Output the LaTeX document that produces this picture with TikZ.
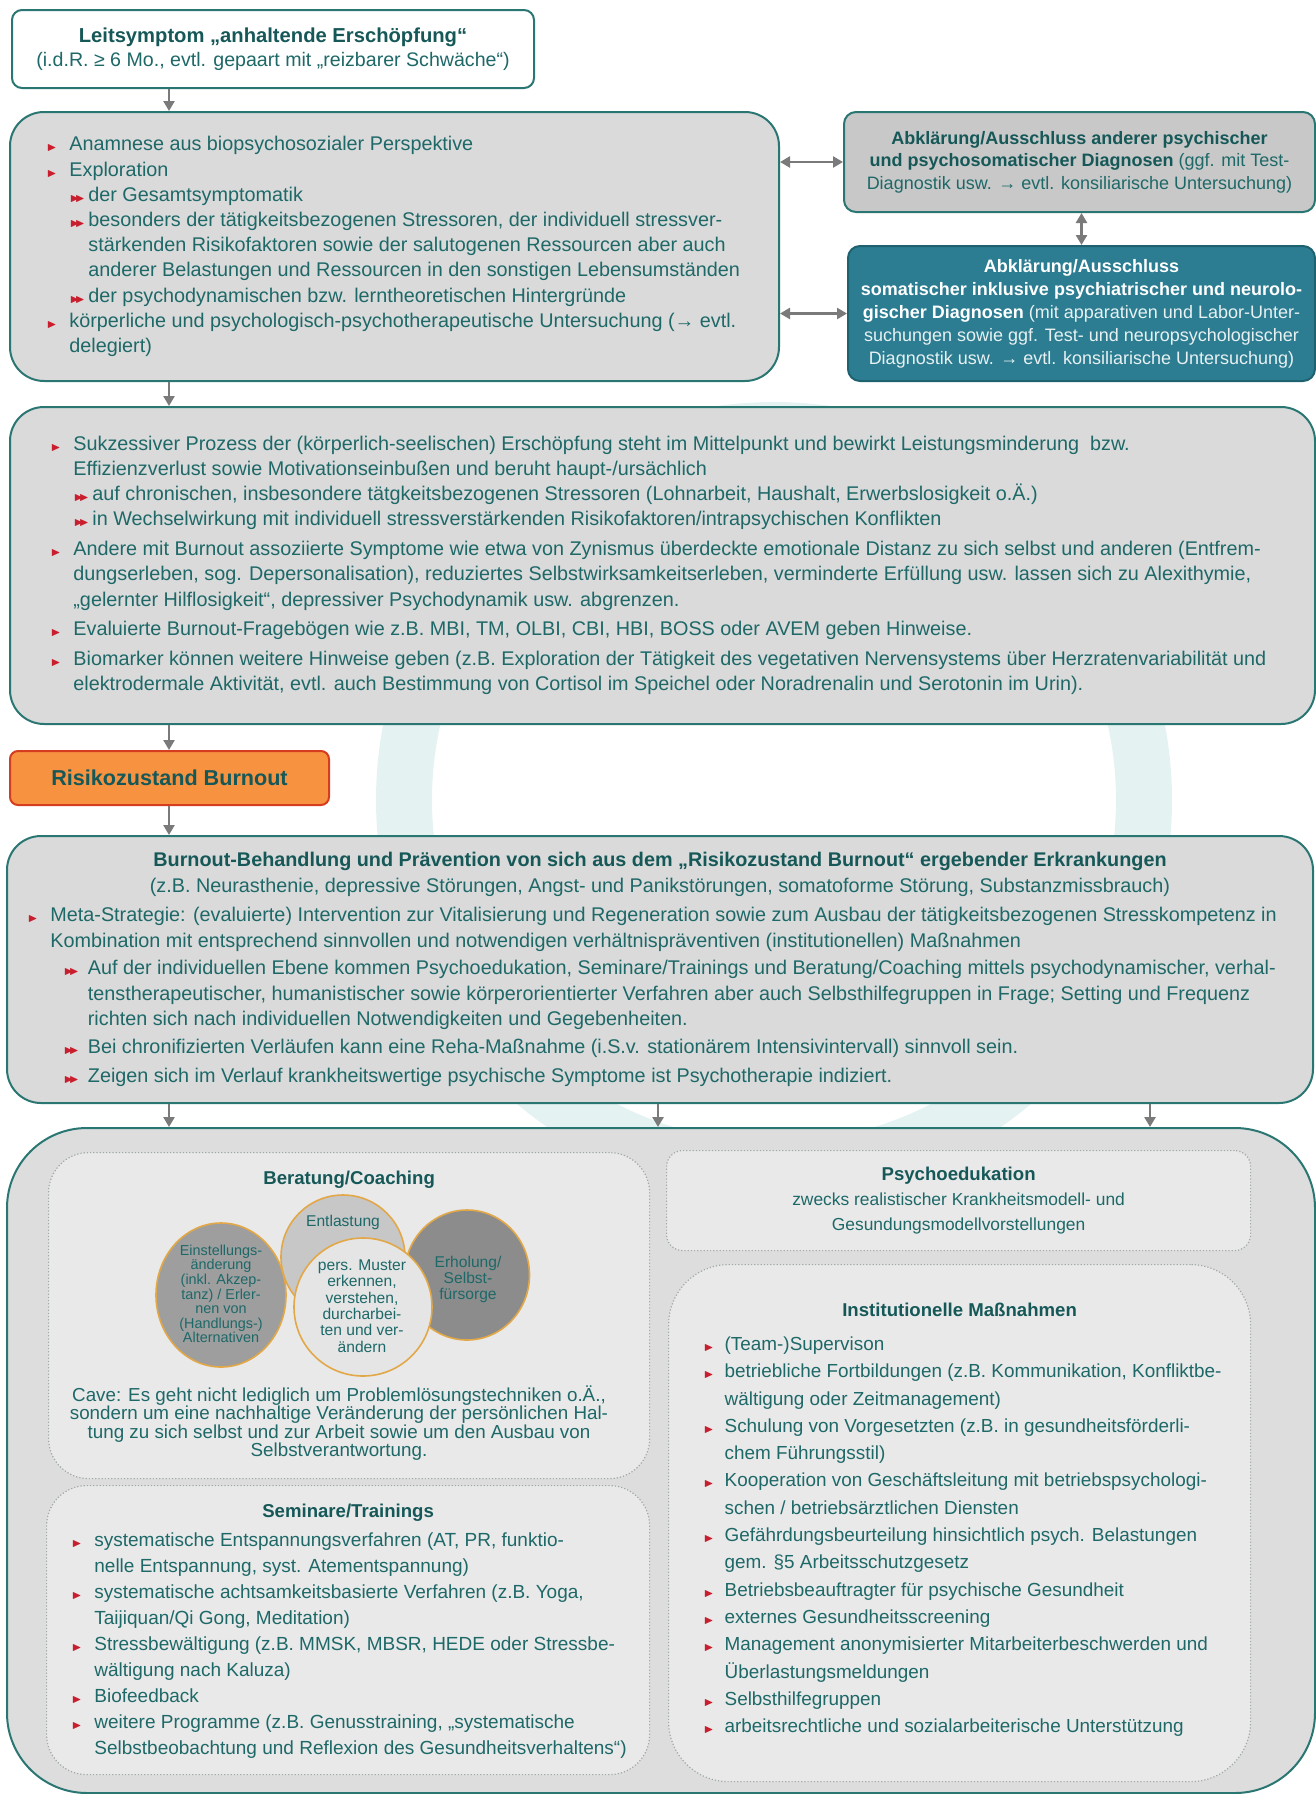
\documentclass[tikz,border=0pt]{standalone}
\usepackage{amssymb}
\usepackage{fontspec}
\setmainfont{Liberation Sans}
\usetikzlibrary{
  arrows.meta,
  positioning,
  shapes.geometric
}
\definecolor{tealline}{RGB}{42,118,114}
\definecolor{tealtext}{RGB}{30,104,104}
\definecolor{headtext}{RGB}{22,88,88}
\definecolor{boxgray}{RGB}{218,218,218}
\definecolor{darkbox}{RGB}{200,200,200}
\definecolor{bluebox}{RGB}{44,125,146}
\definecolor{blueline}{RGB}{30,98,112}
\definecolor{bluetext}{RGB}{232,241,242}
\definecolor{riskfill}{RGB}{247,146,64}
\definecolor{riskline}{RGB}{214,60,30}
\definecolor{bulletred}{RGB}{200,30,45}
\definecolor{arrowgray}{RGB}{122,122,122}
\definecolor{innerfill}{RGB}{233,233,233}
\definecolor{innerline}{RGB}{160,168,168}
\definecolor{outerfill}{RGB}{221,221,221}
\definecolor{venngold}{RGB}{226,168,72}
\definecolor{ringteal}{RGB}{229,242,242}
\newlength{\bulind}
\setlength{\bulind}{11.5pt}
\newcommand{\bul}[1][\bulind]{\makebox[#1][l]{\textcolor{bulletred}{\tiny$\blacktriangleright$}}}
\newcommand{\cont}[1][\bulind]{\hspace*{#1}}
\newcommand{\sbul}{\textcolor{bulletred}{\tiny$\blacktriangleright\mkern-7mu\blacktriangleright$}}
\newcommand{\sub}[1][\bulind]{\hspace*{#1}\makebox[9.5pt][l]{\sbul}}
\newcommand{\scont}[1][\bulind]{\hspace*{#1}\hspace*{9.5pt}}
\tikzset{
bodytext/.style={
  inner sep=0pt,
  align=left,
  text=tealtext
},
flowbox/.style={
  draw=tealline,
  line width=1pt,
  fill=boxgray,
  rounded corners=17pt,
  anchor=north west,
  inner sep=0pt
},
smallbox/.style={
  flowbox,
  rounded corners=6pt,
  align=center,
  text=tealtext
},
innerbox/.style={
  draw=innerline,
  densely dotted,
  line width=0.6pt,
  fill=innerfill,
  anchor=north west,
  inner sep=0pt
},
venn/.style={
  draw=venngold,
  line width=0.8pt,
  ellipse,
  inner sep=0pt,
  align=center,
  text=tealtext,
  font=\fontsize{7.8}{8}\selectfont
},
arrow/.style={
  -{Triangle[length=5pt,width=5.5pt]},
  line width=1.3pt,
  draw=arrowgray
},
biarrow/.style={
  arrow,
  {Triangle[length=5pt,width=5.5pt]}-{Triangle[length=5pt,width=5.5pt]}
}
}

\begin{document}
\begin{tikzpicture}[x=1pt,y=-1pt]
\useasboundingbox (0,0) rectangle (658,897);
\draw[ringteal, line width=28pt] (387,400) circle (185);

\coordinate (spine) at (84.5,0);
\coordinate (midfork) at (329,0);
\coordinate (rightfork) at (575,0);

% diagnostic part
\node[smallbox, fill=white, minimum width=261pt, minimum height=39pt, rounded corners=5pt,
  font=\fontsize{9.8}{12}\selectfont] (lead) at (5.5,4.5)
  {\textbf{\color{headtext}\fontsize{10.1}{12}\selectfont Leitsymptom „anhaltende Erschöpfung“}\\
   (i.d.R. ≥ 6 Mo., evtl. gepaart mit „reizbarer Schwäche“)};

\node[flowbox, minimum width=384.5pt, minimum height=134.5pt] (anam) at (4.5,55.5) {};
\node[bodytext, anchor=west, font=\fontsize{9.9}{12.6}\selectfont] (anamtext)
  at ([xshift=18.5pt]anam.west)
  {\bul Anamnese aus biopsychosozialer Perspektive\\
   \bul Exploration\\
   \sub der Gesamtsymptomatik\\
   \sub besonders der tätigkeitsbezogenen Stressoren, der individuell stressver-\\
   \scont stärkenden Risikofaktoren sowie der salutogenen Ressourcen aber auch\\
   \scont anderer Belastungen und Ressourcen in den sonstigen Lebensumständen\\
   \sub der psychodynamischen bzw. lerntheoretischen Hintergründe\\
   \bul körperliche und psychologisch-psychotherapeutische Untersuchung (→ evtl.\\
   \cont delegiert)};

\node[smallbox, fill=darkbox, minimum width=235.5pt, minimum height=50pt,
  font=\fontsize{9}{11.3}\selectfont] (psydiag) at (421.5,55.5)
  {\textbf{\color{headtext}Abklärung/Ausschluss anderer psychischer}\\
   \textbf{\color{headtext}und psychosomatischer Diagnosen} (ggf. mit Test-\\
   Diagnostik usw. → evtl. konsiliarische Untersuchung)};

\node[smallbox, draw=blueline, fill=bluebox, text=bluetext, minimum width=233.5pt, minimum height=67.5pt,
  font=\fontsize{9}{11.5}\selectfont] (somdiag) at (423.5,122.5)
  {\textbf{\color{white}Abklärung/Ausschluss}\\
   \textbf{\color{white}somatischer inklusive psychiatrischer und neurolo-}\\
   \textbf{\color{white}gischer Diagnosen} (mit apparativen und Labor-Unter-\\
   suchungen sowie ggf. Test- und neuropsychologischer\\
   Diagnostik usw. → evtl. konsiliarische Untersuchung)};

\node[flowbox, minimum width=652.5pt, minimum height=158.5pt] (process) at (4.5,203) {};
\node[bodytext, anchor=west, font=\fontsize{9.9}{12.6}\selectfont] (processtext)
  at ([xshift=20.5pt]process.west)
  {\bul Sukzessiver Prozess der (körperlich-seelischen) Erschöpfung steht im Mittelpunkt und bewirkt Leistungsminderung\ \ bzw.\\
   \cont Effizienzverlust sowie Motivationseinbußen und beruht haupt-/ursächlich\\
   \sub auf chronischen, insbesondere tätgkeitsbezogenen Stressoren (Lohnarbeit, Haushalt, Erwerbslosigkeit o.Ä.)\\
   \sub in Wechselwirkung mit individuell stressverstärkenden Risikofaktoren/intrapsychischen Konflikten\\[2.3pt]
   \bul Andere mit Burnout assoziierte Symptome wie etwa von Zynismus überdeckte emotionale Distanz zu sich selbst und anderen (Entfrem-\\
   \cont dungserleben, sog. Depersonalisation), reduziertes Selbstwirksamkeitserleben, verminderte Erfüllung usw. lassen sich zu Alexithymie,\\
   \cont „gelernter Hilflosigkeit“, depressiver Psychodynamik usw. abgrenzen.\\[2.3pt]
   \bul Evaluierte Burnout-Fragebögen wie z.B. MBI, TM, OLBI, CBI, HBI, BOSS oder AVEM geben Hinweise.\\[2.3pt]
   \bul Biomarker können weitere Hinweise geben (z.B. Exploration der Tätigkeit des vegetativen Nervensystems über Herzratenvariabilität und\\
   \cont elektrodermale Aktivität, evtl. auch Bestimmung von Cortisol im Speichel oder Noradrenalin und Serotonin im Urin).};

\node[smallbox, draw=riskline, fill=riskfill, minimum width=159.5pt, minimum height=27pt, rounded corners=4pt,
  font=\bfseries\fontsize{10.8}{12}\selectfont, text=headtext] (risk) at (4.5,375) {Risikozustand Burnout};

% treatment part
\node[flowbox, minimum width=653pt, minimum height=133.5pt] (treat) at (3,417.5) {};
\node[bodytext, align=center, anchor=center, font=\fontsize{9.9}{13}\selectfont] (treathead)
  at ([yshift=-19.5pt]treat.north)
  {\textbf{\color{headtext}Burnout-Behandlung und Prävention von sich aus dem „Risikozustand Burnout“ ergebender Erkrankungen}\\
   (z.B. Neurasthenie, depressive Störungen, Angst- und Panikstörungen, somatoforme Störung, Substanzmissbrauch)};
\node[bodytext, anchor=west, font=\fontsize{9.9}{12.7}\selectfont] (treattext)
  at ([xshift=10.5pt,yshift=-13.75pt]treat.west)
  {\bul Meta-Strategie: (evaluierte) Intervention zur Vitalisierung und Regeneration sowie zum Ausbau der tätigkeitsbezogenen Stresskompetenz in\\
   \cont Kombination mit entsprechend sinnvollen und notwendigen verhältnispräventiven (institutionellen) Maßnahmen\\[1pt]
   \sub[18pt] Auf der individuellen Ebene kommen Psychoedukation, Seminare/Trainings und Beratung/Coaching mittels psychodynamischer, verhal-\\
   \scont[18pt] tenstherapeutischer, humanistischer sowie körperorientierter Verfahren aber auch Selbsthilfegruppen in Frage; Setting und Frequenz\\
   \scont[18pt] richten sich nach individuellen Notwendigkeiten und Gegebenheiten.\\[1.5pt]
   \sub[18pt] Bei chronifizierten Verläufen kann eine Reha-Maßnahme (i.S.v. stationärem Intensivintervall) sinnvoll sein.\\[1.5pt]
   \sub[18pt] Zeigen sich im Verlauf krankheitswertige psychische Symptome ist Psychotherapie indiziert.};

\node[flowbox, fill=outerfill, rounded corners=40pt, minimum width=654pt, minimum height=332.5pt] (measures) at (3,563.5) {};

% Beratung/Coaching
\node[innerbox, rounded corners=20pt, minimum width=300.5pt, minimum height=163pt] (coach) at (24,576) {};
\node[bodytext, font=\bfseries\fontsize{9.3}{11}\selectfont, text=headtext] (coachhead) at ([yshift=-14pt]coach.north) {Beratung/Coaching};
\node[venn, fill=black!22, minimum width=62pt, minimum height=62pt] (relief) at (171.5,628.5) {};
\node[venn, fill=black!38, minimum width=65pt, minimum height=72pt] (attitude) at (110.5,647.5) {};
\node[venn, fill=black!45, minimum width=62.5pt, minimum height=65pt] (recovery) at (233.5,637.5) {};
\node[venn, fill=black!10, minimum width=69pt, minimum height=69pt] (pattern) at (181.5,653.5) {};
\node[venn, draw=none, fill=none] (relieftext) at (171.5,611) {Entlastung};
\node[venn, draw=none, fill=none, font=\fontsize{7.2}{7.3}\selectfont] (attitudetext) at (110.5,647)
  {Einstellungs-\\änderung\\(inkl. Akzep-\\tanz) / Erler-\\nen von\\(Handlungs-)\\Alternativen};
\node[venn, draw=none, fill=none] (recoverytext) at (234,639.5) {Erholung/\\Selbst-\\fürsorge};
\node[venn, draw=none, fill=none, font=\fontsize{7.8}{8.2}\selectfont] (patterntext) at (181,653)
  {pers. Muster\\erkennen,\\verstehen,\\durcharbei-\\ten und ver-\\ändern};
\node[bodytext, align=center, font=\fontsize{9.4}{9.3}\selectfont] (cave) at (169.5,711.5)
  {Cave: Es geht nicht lediglich um Problemlösungstechniken o.Ä.,\\
   sondern um eine nachhaltige Veränderung der persönlichen Hal-\\
   tung zu sich selbst und zur Arbeit sowie um den Ausbau von\\
   Selbstverantwortung.};

% Seminare/Trainings
\node[innerbox, rounded corners=20pt, minimum width=301.5pt, minimum height=144.5pt] (seminar) at (23,742.5) {};
\node[bodytext, font=\bfseries\fontsize{9.3}{11}\selectfont, text=headtext] (seminarhead) at ([yshift=-14pt]seminar.north) {Seminare/Trainings};
\node[bodytext, anchor=west, font=\fontsize{9.5}{13}\selectfont] (seminartext) at ([xshift=12.5pt,yshift=-7.5pt]seminar.west)
  {\bul systematische Entspannungsverfahren (AT, PR, funktio-\\
   \cont nelle Entspannung, syst. Atementspannung)\\
   \bul systematische achtsamkeitsbasierte Verfahren (z.B. Yoga,\\
   \cont Taijiquan/Qi Gong, Meditation)\\
   \bul Stressbewältigung (z.B. MMSK, MBSR, HEDE oder Stressbe-\\
   \cont wältigung nach Kaluza)\\
   \bul Biofeedback\\
   \bul weitere Programme (z.B. Genusstraining, „systematische\\
   \cont Selbstbeobachtung und Reflexion des Gesundheitsverhaltens“)};

% Psychoedukation
\node[innerbox, rounded corners=8pt, minimum width=292pt, minimum height=50pt, align=center, text=tealtext,
  font=\fontsize{8.7}{12.5}\selectfont] (psyedu) at (333,575)
  {\textbf{\color{headtext}\fontsize{9.3}{12.5}\selectfont Psychoedukation}\\
   zwecks realistischer Krankheitsmodell- und\\
   Gesundungsmodellvorstellungen};

% Institutionelle Massnahmen
\node[innerbox, rounded corners=30pt, minimum width=291pt, minimum height=258.5pt] (inst) at (334,632) {};
\node[bodytext, font=\bfseries\fontsize{9.3}{11}\selectfont, text=headtext] (insthead) at ([yshift=-23pt]inst.north) {Institutionelle Maßnahmen};
\node[bodytext, anchor=west, font=\fontsize{9.45}{13.65}\selectfont] (insttext) at ([xshift=17.5pt,yshift=-6.75pt]inst.west)
  {\bul[8pt] (Team-)Supervison\\
   \bul[8pt] betriebliche Fortbildungen (z.B. Kommunikation, Konfliktbe-\\
   \cont[8pt] wältigung oder Zeitmanagement)\\
   \bul[8pt] Schulung von Vorgesetzten (z.B. in gesundheitsförderli-\\
   \cont[8pt] chem Führungsstil)\\
   \bul[8pt] Kooperation von Geschäftsleitung mit betriebspsychologi-\\
   \cont[8pt] schen / betriebsärztlichen Diensten\\
   \bul[8pt] Gefährdungsbeurteilung hinsichtlich psych. Belastungen\\
   \cont[8pt] gem. §5 Arbeitsschutzgesetz\\
   \bul[8pt] Betriebsbeauftragter für psychische Gesundheit\\
   \bul[8pt] externes Gesundheitsscreening\\
   \bul[8pt] Management anonymisierter Mitarbeiterbeschwerden und\\
   \cont[8pt] Überlastungsmeldungen\\
   \bul[8pt] Selbsthilfegruppen\\
   \bul[8pt] arbeitsrechtliche und sozialarbeiterische Unterstützung};

% connectors
\draw[arrow] (lead.south -| spine) -- (anam.north -| spine);
\draw[biarrow] (anam.east |- psydiag.west) -- (psydiag.west);
\draw[biarrow] (anam.east |- somdiag.west) -- (somdiag.west);
\draw[biarrow] (psydiag.south -| somdiag.north) -- (somdiag.north);
\draw[arrow] (anam.south -| spine) -- (process.north -| spine);
\draw[arrow] (process.south -| spine) -- (risk.north -| spine);
\draw[arrow] (risk.south -| spine) -- (treat.north -| spine);
\draw[arrow] (treat.south -| spine) -- (measures.north -| spine);
\draw[arrow] (treat.south -| midfork) -- (measures.north -| midfork);
\draw[arrow] (treat.south -| rightfork) -- (measures.north -| rightfork);
\end{tikzpicture}
\end{document}
